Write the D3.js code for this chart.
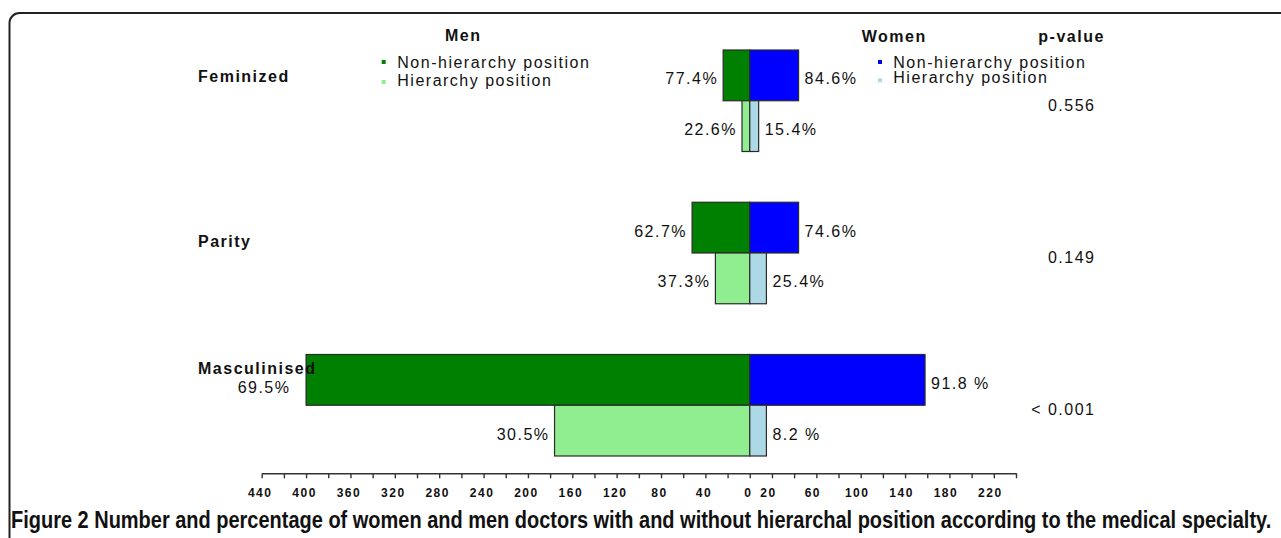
<!DOCTYPE html>
<html>
<head>
<meta charset="utf-8">
<script src="https://cdn.jsdelivr.net/npm/d3@7/dist/d3.min.js"></script>
<style>
  html, body { margin: 0; padding: 0; background: #fff; }
  svg { display: block; }
  .lbl { font-family: "Liberation Sans", Arial, sans-serif; font-size: 16px; letter-spacing: 1.5px; fill: #111; }
  .bold { font-weight: bold; }
  .ax text { font-family: "Liberation Sans", Arial, sans-serif; font-size: 12px; font-weight: bold; letter-spacing: 1.5px; fill: #111; }
  .ax path, .ax line { stroke: #333; stroke-width: 1.4; }
  .caption { font-family: "Liberation Sans Narrow", "Liberation Sans", Arial, sans-serif; font-size: 23px; fill: #111; }
</style>
</head>
<body>
<svg id="chart" width="1281" height="538"></svg>
<script>
// data (counts of doctors, percentages as printed)
var categories = ['Feminized', 'Parity', 'Masculinised']
var menNonHier = [24, 52, 400]
var menHier = [7, 31, 176]
var womenNonHier = [44, 44, 158]
var womenHier = [8, 15, 15]
var menNonHierPct = ['77.4%', '62.7%', '69.5%']
var menHierPct = ['22.6%', '37.3%', '30.5%']
var womenNonHierPct = ['84.6%', '74.6%', '91.8 %']
var womenHierPct = ['15.4%', '25.4%', '8.2 %']
var pValues = ['0.556', '0.149', '< 0.001']
var legendLabels = ['Non-hierarchy position', 'Hierarchy position']
var leftTickLabels = [440, 400, 360, 320, 280, 240, 200, 160, 120, 80, 40, 0]
var rightTickLabels = [20, 60, 100, 140, 180, 220]

;(function () {
  var svg = d3.select('#chart')

  var colors = {
    men: {nonHier: '#008000', hier: '#90ee90'},
    women: {nonHier: '#0000ff', hier: '#add8e6'}
  }

  // where each category name sits relative to the top of its group
  var catLabelOffset = {Feminized: 32, Parity: 45, Masculinised: 19}

  /*
      --------------------------------------
      Scales
  */
  var x = d3.scaleLinear()
      .domain([-440, 240])
      .range([261.7, 1016])

  var yGroup = d3.scaleBand()
      .domain(categories)
      .range([50, 456])
      .paddingInner(1 / 3)

  var yRow = d3.scaleBand()
      .domain(['nonHier', 'hier'])
      .range([0, yGroup.bandwidth()])

  var rows = []
  categories.forEach(function (c, i) {
    rows.push({cat: c, side: 'men', pos: 'nonHier', value: menNonHier[i], pct: menNonHierPct[i]})
    rows.push({cat: c, side: 'men', pos: 'hier', value: menHier[i], pct: menHierPct[i]})
    rows.push({cat: c, side: 'women', pos: 'nonHier', value: womenNonHier[i], pct: womenNonHierPct[i]})
    rows.push({cat: c, side: 'women', pos: 'hier', value: womenHier[i], pct: womenHierPct[i]})
  })

  function rowTop (d) { return yGroup(d.cat) + yRow(d.pos) }
  function rowMid (d) { return rowTop(d) + yRow.bandwidth() / 2 }

  /*
      --------------------------------------
      Frame
  */
  svg.append('path')
      .attr('d', 'M9.5,538 V23 A10,10 0 0 1 19.5,13 H1285')
      .attr('fill', 'none')
      .attr('stroke', '#222')
      .attr('stroke-width', 2)

  /*
      --------------------------------------
      Bars
  */
  svg.append('g').selectAll('rect')
      .data(rows)
      .join('rect')
      .attr('x', d => d.side === 'men' ? x(-d.value) : x(0))
      .attr('y', rowTop)
      .attr('width', d => d.side === 'men' ? x(0) - x(-d.value) : x(d.value) - x(0))
      .attr('height', yRow.bandwidth())
      .attr('fill', d => colors[d.side][d.pos])
      .attr('stroke', '#2a2a2a')
      .attr('stroke-width', 1.2)

  /*
      --------------------------------------
      Percent labels
  */
  svg.append('g').selectAll('text')
      .data(rows)
      .join('text')
      .attr('class', 'lbl')
      .each(function (d) {
        var t = d3.select(this)
        if (d.side === 'women') {
          t.attr('x', x(d.value) + 6).attr('y', rowMid(d) + 9).attr('text-anchor', 'start')
        } else if (x(-d.value) < 330) {
          // no room on the left: goes under the category name
          t.attr('x', x(-d.value) - 42).attr('y', rowMid(d) + 13).attr('text-anchor', 'middle')
        } else {
          t.attr('x', x(-d.value) - 5).attr('y', rowMid(d) + 9).attr('text-anchor', 'end')
        }
      })
      .text(d => d.pct)

  /*
      --------------------------------------
      Category names and p-values
  */
  svg.append('g').selectAll('text')
      .data(categories)
      .join('text')
      .attr('class', 'lbl bold')
      .attr('x', 198)
      .attr('y', d => yGroup(d) + catLabelOffset[d])
      .text(d => d)

  svg.append('g').selectAll('text')
      .data(pValues)
      .join('text')
      .attr('class', 'lbl')
      .attr('text-anchor', 'end')
      .attr('x', 1095.5)
      .attr('y', (d, i) => yGroup(categories[i]) + yGroup.bandwidth() / 2 + 10)
      .text(d => d)

  /*
      --------------------------------------
      Headers and legends
  */
  var headers = [
    {text: 'Men', x: 445, y: 41},
    {text: 'Women', x: 861.7, y: 41.7},
    {text: 'p-value', x: 1038.3, y: 41.7}
  ]
  svg.append('g').selectAll('text')
      .data(headers)
      .join('text')
      .attr('class', 'lbl bold')
      .attr('x', d => d.x)
      .attr('y', d => d.y)
      .text(d => d.text)

  var legends = [
    {side: 'men', sx: 381.7, tx: 397.3, sq: [60, 80], base: [68.3, 86]},
    {side: 'women', sx: 878, tx: 893.3, sq: [60, 78.3], base: [68.3, 83.3]}
  ]
  legends.forEach(function (lg) {
    var g = svg.append('g')
    ;['nonHier', 'hier'].forEach(function (pos, i) {
      g.append('rect')
          .attr('x', lg.sx)
          .attr('y', lg.sq[i])
          .attr('width', 4)
          .attr('height', 4)
          .attr('fill', colors[lg.side][pos])
      g.append('text')
          .attr('class', 'lbl')
          .attr('x', lg.tx)
          .attr('y', lg.base[i])
          .text(legendLabels[i])
    })
  })

  /*
      --------------------------------------
      Axis
  */
  var labelled = new Set(leftTickLabels.map(v => -v).concat(rightTickLabels))
  var xAxis = d3.axisBottom(x)
      .tickValues(d3.range(-440, 241, 20))
      .tickSize(5)
      .tickSizeOuter(0)
      .tickPadding(10)
      .tickFormat(d => labelled.has(d) ? Math.abs(d) : '')

  var ax = svg.append('g')
      .attr('class', 'ax')
      .attr('transform', 'translate(0,473.3)')
      .call(xAxis)

  ax.selectAll('.tick text')
      .attr('dx', d => d > 0 ? -4 : -2)

  /*
      --------------------------------------
      Caption
  */
  var cap = svg.append('text')
      .attr('class', 'caption')
      .attr('x', 0)
      .attr('y', 0)
  cap.append('tspan').attr('font-weight', 'bold').text('Figure 2')
  cap.append('tspan').attr('font-weight', 600)
      .text(' Number and percentage of women and men doctors with and without hierarchal position according to the medical specialty.')

  var w = cap.node().getComputedTextLength()
  cap.attr('transform', 'translate(11,528) scale(' + (1261 / w) + ',1)')
})()
</script>
</body>
</html>
